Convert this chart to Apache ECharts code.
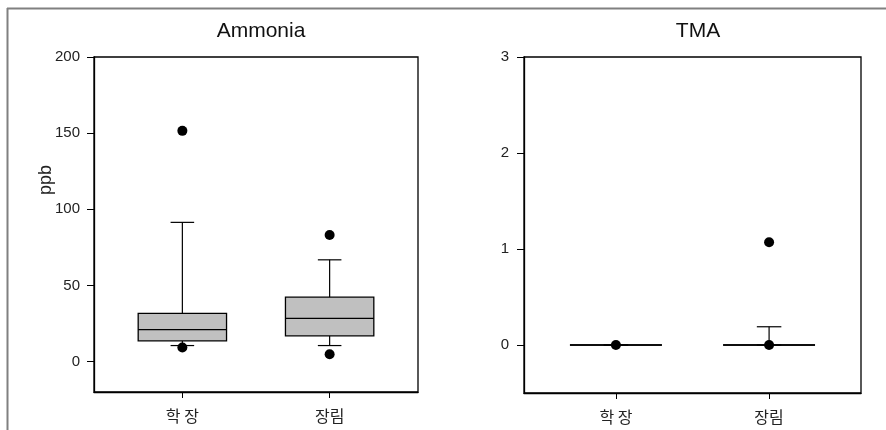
<!DOCTYPE html>
<html>
<head>
<meta charset="utf-8">
<script src="https://cdn.jsdelivr.net/npm/echarts@6/dist/echarts.min.js"></script>
<style>
html,body{margin:0;padding:0;background:#fff;}
#chart{width:886px;height:430px;}
</style>
</head>
<body>
<div id="chart"></div>
<script>
// ---- data ----
const categories = ['학 장', '장림'];
const titles = ['Ammonia', 'TMA'];
const yName = 'ppb';
// [low whisker, Q1, median, Q3, high whisker]
const ammoniaBox = [[10.5, 13.6, 21.0, 31.6, 91.4], [10.5, 16.9, 28.3, 42.3, 66.8]];
const ammoniaOutliers = [[151.5, 9.2], [83.1, 4.8]];
const tmaBox = [[0, 0, 0, 0, 0], [0, 0, 0, 0, 0.19]];
const tmaOutliers = [[0], [0, 1.07]];
const ammoniaTicks = [0, 50, 100, 150, 200];
const tmaTicks = [0, 1, 2, 3];
const ammoniaRange = [-20, 200];
const tmaRange = [-0.5, 3];
const xRange = [-0.6, 1.6];
const catPos = [0, 1];

const FONT = '"Liberation Sans", Arial, "Noto Sans CJK KR", sans-serif';
const KFONT = '"Noto Sans CJK KR", "Liberation Sans", sans-serif';

function boxData(arr) {
  return arr.map((b, i) => [catPos[i]].concat(b));
}
function outlierData(arr) {
  const out = [];
  arr.forEach((vals, i) => vals.forEach(v => out.push([catPos[i], v])));
  return out;
}

function renderBox(params, api) {
  const x = api.value(0);
  const pLow = api.coord([x, api.value(1)]);
  const pQ1 = api.coord([x, api.value(2)]);
  const pMed = api.coord([x, api.value(3)]);
  const pQ3 = api.coord([x, api.value(4)]);
  const pHigh = api.coord([x, api.value(5)]);
  const halfBox = api.size([0.3, 0])[0];
  const halfCap = api.size([0.08, 0])[0];
  const cx = pMed[0];
  const lineStyle = { stroke: '#000', lineWidth: 1.2 };
  return {
    type: 'group',
    children: [
      { type: 'line', shape: { x1: cx, y1: pQ3[1], x2: cx, y2: pHigh[1] }, style: lineStyle },
      { type: 'line', shape: { x1: cx, y1: pQ1[1], x2: cx, y2: pLow[1] }, style: lineStyle },
      { type: 'line', shape: { x1: cx - halfCap, y1: pHigh[1], x2: cx + halfCap, y2: pHigh[1] }, style: lineStyle },
      { type: 'line', shape: { x1: cx - halfCap, y1: pLow[1], x2: cx + halfCap, y2: pLow[1] }, style: lineStyle },
      { type: 'rect', shape: { x: cx - halfBox, y: pQ3[1], width: halfBox * 2, height: pQ1[1] - pQ3[1] },
        style: { fill: '#c0c0c0', stroke: '#000', lineWidth: 1.3 } },
      { type: 'line', shape: { x1: cx - halfBox, y1: pMed[1], x2: cx + halfBox, y2: pMed[1] }, style: { stroke: '#000', lineWidth: 1.3 } }
    ]
  };
}

function xAxisCfg(gi) {
  return {
    gridIndex: gi, type: 'value', min: xRange[0], max: xRange[1],
    axisLine: { show: true, onZero: false, lineStyle: { color: '#000', width: 1.3 } },
    axisTick: { show: true, customValues: catPos, length: 6, lineStyle: { color: '#000' } },
    axisLabel: { customValues: catPos, margin: 16, fontSize: 16, color: '#222', fontFamily: KFONT,
      formatter: v => categories[Math.round(v)] },
    splitLine: { show: false }
  };
}
function yAxisCfg(gi, range, ticks, margin) {
  return {
    gridIndex: gi, type: 'value', min: range[0], max: range[1],
    axisLine: { show: true, onZero: false, lineStyle: { color: '#000', width: 1.3 } },
    axisTick: { show: true, customValues: ticks, length: 7, lineStyle: { color: '#000' } },
    axisLabel: { customValues: ticks, margin: margin, fontSize: 15, color: '#222', fontFamily: FONT },
    splitLine: { show: false }
  };
}

const chart = echarts.init(document.getElementById('chart'), null, { renderer: 'canvas' });
chart.setOption({
  animation: false,
  backgroundColor: '#fff',
  title: [
    { text: titles[0], left: 256, top: 16, textAlign: 'center', textStyle: { fontSize: 21, fontWeight: 'normal', color: '#111', fontFamily: FONT } },
    { text: titles[1], left: 693, top: 16, textAlign: 'center', textStyle: { fontSize: 21, fontWeight: 'normal', color: '#111', fontFamily: FONT } }
  ],
  grid: [
    { left: 94, top: 57, width: 324, height: 335, show: true, borderColor: '#000', borderWidth: 1.3, backgroundColor: 'transparent' },
    { left: 524, top: 57, width: 337, height: 336, show: true, borderColor: '#000', borderWidth: 1.3, backgroundColor: 'transparent' }
  ],
  xAxis: [xAxisCfg(0), xAxisCfg(1)],
  yAxis: [yAxisCfg(0, ammoniaRange, ammoniaTicks, 14), yAxisCfg(1, tmaRange, tmaTicks, 15)],
  graphic: [
    { type: 'line', shape: { x1: 7, y1: 8.5, x2: 886, y2: 8.5 }, style: { stroke: '#808080', lineWidth: 2 }, silent: true },
    { type: 'line', shape: { x1: 7.5, y1: 8, x2: 7.5, y2: 430 }, style: { stroke: '#808080', lineWidth: 2 }, silent: true },
    { type: 'text', x: 46, y: 180, rotation: Math.PI / 2,
      style: { text: yName, font: '18px ' + FONT, fill: '#222', textAlign: 'center', textVerticalAlign: 'middle' } }
  ],
  series: [
    { type: 'custom', xAxisIndex: 0, yAxisIndex: 0, renderItem: renderBox, data: boxData(ammoniaBox), encode: { x: 0, y: [1, 2, 3, 4, 5] }, clip: false },
    { type: 'custom', xAxisIndex: 1, yAxisIndex: 1, renderItem: renderBox, data: boxData(tmaBox), encode: { x: 0, y: [1, 2, 3, 4, 5] }, clip: false },
    { type: 'scatter', xAxisIndex: 0, yAxisIndex: 0, data: outlierData(ammoniaOutliers), symbolSize: 10, itemStyle: { color: '#000', opacity: 1 }, z: 5 },
    { type: 'scatter', xAxisIndex: 1, yAxisIndex: 1, data: outlierData(tmaOutliers), symbolSize: 10, itemStyle: { color: '#000', opacity: 1 }, z: 5 }
  ]
});
</script>
</body>
</html>
